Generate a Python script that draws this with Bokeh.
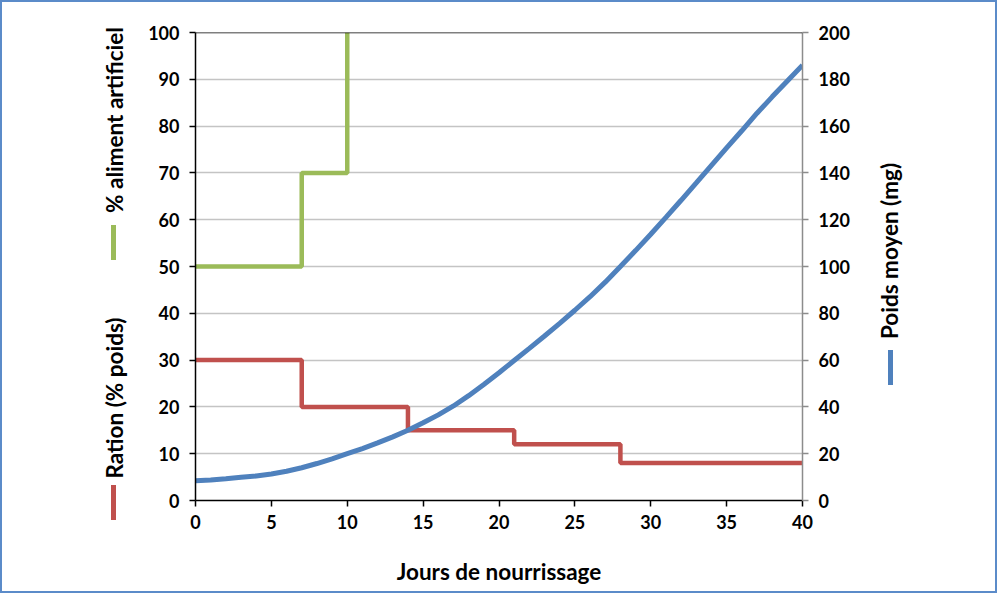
from bokeh.plotting import figure
from bokeh.layouts import row
from bokeh.models import LinearAxis, Range1d, Span, FixedTicker, Div
from bokeh.embed import file_html
from bokeh.resources import INLINE

# ---- data ----
days = list(range(0, 41))
weight_mg = [8.4, 8.8, 9.3, 9.9, 10.5, 11.3, 12.5, 14, 15.8, 17.8, 20, 22.2, 24.6, 27.2, 30,
             33.2, 36.6, 40.4, 44.8, 49.6, 54.6, 59.8, 65, 70.3, 75.7, 81.3, 87.1, 93.3, 100,
             106.8, 113.8, 121, 128.3, 135.7, 143.2, 150.7, 158, 165.5, 172.5, 179.3, 186]

ration_days = [0, 7, 14, 21, 28, 40]
ration_pct = [30, 20, 15, 12, 8, 8]

artif_days = [0, 7, 10]
artif_pct = [50, 70, 100]

x_ticks = [0, 5, 10, 15, 20, 25, 30, 35, 40]
left_ticks = [0, 10, 20, 30, 40, 50, 60, 70, 80, 90, 100]
right_ticks = [0, 20, 40, 60, 80, 100, 120, 140, 160, 180, 200]

x_title = "Jours de nourrissage"
left_titles = ["% aliment artificiel", "Ration (% poids)"]
right_titles = ["Poids moyen (mg)"]

GREEN = "#9bbb59"
RED = "#c0504d"
BLUE = "#4f81bd"
FONT = "Lato"
H = 589

# ---- main plot ----
p = figure(width=722, height=H, output_backend="svg", toolbar_location=None,
           x_range=Range1d(0, 40), y_range=Range1d(0, 100),
           min_border_left=53, min_border_right=62, min_border_top=30, min_border_bottom=91)
p.extra_y_ranges = {"mg": Range1d(0, 200)}
p.outline_line_color = None
p.border_fill_color = "white"

p.xgrid.grid_line_color = None
p.ygrid.grid_line_color = "#c4c4c4"
p.ygrid.grid_line_width = 1.5
p.ygrid.ticker = FixedTicker(ticks=left_ticks)

def style_axis(ax, color):
    ax.axis_line_color = color
    ax.axis_line_width = 1.5
    ax.major_tick_line_color = color
    ax.major_tick_line_width = 1.5
    ax.major_tick_out = 6
    ax.major_tick_in = 0
    ax.minor_tick_line_color = None
    ax.major_label_text_font = FONT
    ax.major_label_text_font_style = "bold"
    ax.major_label_text_font_size = "18px"
    ax.major_label_text_color = "black"

p.xaxis.ticker = FixedTicker(ticks=x_ticks)
style_axis(p.xaxis[0], "black")
p.xaxis.major_label_standoff = 8
p.xaxis.axis_label = x_title
p.xaxis.axis_label_text_font = FONT
p.xaxis.axis_label_text_font_style = "bold"
p.xaxis.axis_label_text_font_size = "22.5px"
p.xaxis.axis_label_text_color = "black"
p.xaxis.axis_label_standoff = 26

p.yaxis.ticker = FixedTicker(ticks=left_ticks)
style_axis(p.yaxis[0], "black")
p.yaxis.major_label_standoff = 10

right = LinearAxis(y_range_name="mg", ticker=FixedTicker(ticks=right_ticks))
style_axis(right, "#8c8c8c")
right.major_label_standoff = 10
p.add_layout(right, "right")

p.add_layout(Span(location=100, dimension="width", line_color="black", line_width=1.5))

p.step(artif_days, artif_pct, mode="after", line_color=GREEN, line_width=4.5)
p.step(ration_days, ration_pct, mode="after", line_color=RED, line_width=4.5)
p.line(days, weight_mg, y_range_name="mg", line_color=BLUE, line_width=5)

# ---- side panels: rotated axis titles with their colour keys ----
def side_panel(w, titles, centers, keys, colors):
    parts = [f'<div style="position:relative;width:{w}px;height:{H}px;background:white;">']
    for t, (cx, cy) in zip(titles, centers):
        parts.append(
            f'<div style="position:absolute;left:{cx}px;top:{cy}px;'
            f'transform:translate(-50%,-50%) rotate(-90deg);white-space:nowrap;'
            f'font-family:{FONT};font-weight:bold;font-size:22.5px;line-height:1;color:black;">{t}</div>')
    for (kx, ky), c in zip(keys, colors):
        parts.append(
            f'<div style="position:absolute;left:{kx}px;top:{ky}px;width:5px;height:35px;'
            f'background:{c};"></div>')
    parts.append('</div>')
    return Div(text="".join(parts), width=w, height=H, margin=0)

left_panel = side_panel(140, left_titles, [(113, 118), (113, 396)], [(109, 223), (109, 483)],
                        [GREEN, RED])
right_panel = side_panel(131, right_titles, [(26, 249)], [(24, 348)], [BLUE])

layout = row(left_panel, p, right_panel, spacing=0)
layout.styles = {"border": "2px solid #5b8bc9"}

open("out.html", "w").write(file_html(layout, INLINE))
